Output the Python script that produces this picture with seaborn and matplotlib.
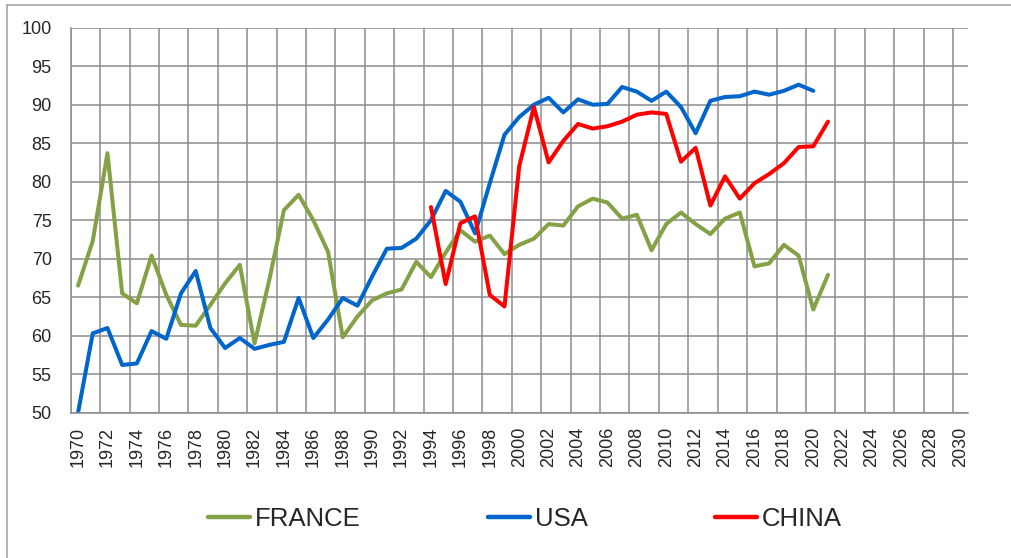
import numpy as np
import pandas as pd
import matplotlib
matplotlib.use("Agg")
import matplotlib.pyplot as plt
from matplotlib.lines import Line2D
import seaborn as sns

# values
france_years = list(range(1970, 2022))
france = [66.5, 72.3, 83.7, 65.5, 64.2, 70.4, 65.3, 61.4, 61.3, 64.0,
          66.8, 69.2, 59.0, 67.2, 76.3, 78.3, 75.0, 70.9, 59.8, 62.5,
          64.6, 65.5, 66.0, 69.6, 67.6, 70.8, 73.7, 72.2, 73.0, 70.6,
          71.8, 72.6, 74.5, 74.3, 76.8, 77.8, 77.3, 75.2, 75.7, 71.1,
          74.5, 76.0, 74.5, 73.2, 75.2, 76.0, 69.0, 69.4, 71.8, 70.4,
          63.4, 67.9]

usa_years = list(range(1970, 2021))
usa = [50.0, 60.3, 61.0, 56.2, 56.4, 60.6, 59.6, 65.5, 68.4, 61.0,
       58.4, 59.7, 58.3, 58.8, 59.2, 64.9, 59.7, 62.1, 64.9, 63.9,
       67.7, 71.3, 71.4, 72.6, 75.0, 78.8, 77.4, 73.3, 79.8, 86.1,
       88.4, 90.0, 90.9, 89.0, 90.7, 90.0, 90.1, 92.3, 91.7, 90.5,
       91.7, 89.7, 86.3, 90.5, 91.0, 91.1, 91.7, 91.3, 91.8, 92.6,
       91.8]

china_years = list(range(1994, 2022))
china = [76.7, 66.7, 74.6, 75.5, 65.3, 63.8, 82.0, 89.7, 82.5, 85.3,
         87.5, 86.9, 87.2, 87.8, 88.7, 89.0, 88.8, 82.6, 84.4, 76.9,
         80.7, 77.8, 79.8, 81.0, 82.4, 84.5, 84.6, 87.8]

series_names = ["FRANCE", "USA", "CHINA"]
colours = ["#84A146", "#0066CC", "#FF0000"]
grid_col = "#8C8C8C"

df = pd.concat([
    pd.DataFrame({"year": france_years, "value": france, "country": "FRANCE"}),
    pd.DataFrame({"year": usa_years, "value": usa, "country": "USA"}),
    pd.DataFrame({"year": china_years, "value": china, "country": "CHINA"}),
])

sns.set_style("white")
plt.rcParams["font.family"] = ["Liberation Sans", "DejaVu Sans"]

fig = plt.figure(figsize=(10.12, 5.58), dpi=100)
ax = fig.add_axes([70.7 / 1012, 1 - 412.7 / 558, 897 / 1012, 385 / 558])

sns.lineplot(data=df, x="year", y="value", hue="country", hue_order=series_names,
             palette=colours, linewidth=2.9, ax=ax, legend=False,
             solid_joinstyle="round", solid_capstyle="round")

ax.set_xlim(1969.5, 2030.5)
ax.set_ylim(50, 100)
ax.set_xlabel("")
ax.set_ylabel("")

# grid lines between categories, labels on the categories
ax.set_xticks(np.arange(1969.5, 2030, 2))
ax.set_xticklabels([])
ax.set_xticks(np.arange(1970, 2031, 2), minor=True)
ax.set_xticklabels([str(y) for y in range(1970, 2031, 2)], minor=True,
                   rotation=90, fontsize=13)
ax.tick_params(axis="x", which="major", length=4.7, width=1.1, color=grid_col,
               direction="out")
ax.tick_params(axis="x", which="minor", length=0, pad=10)
ax.set_yticks(np.arange(50, 101, 5))
ax.tick_params(axis="y", length=4.7, width=1.1, color=grid_col, direction="out",
               pad=9, labelsize=13)

ax.grid(True, which="major", color=grid_col, linewidth=1.1)
ax.set_axisbelow(True)
for side in ["top", "right"]:
    ax.spines[side].set_visible(False)
for side in ["left", "bottom"]:
    ax.spines[side].set_color(grid_col)
    ax.spines[side].set_linewidth(1.1)

handles = [Line2D([0], [0], color=c, linewidth=3.2) for c in colours]
ax.legend(handles, series_names, loc="center", ncol=3, frameon=False,
          bbox_to_anchor=(525 / 1012, 1 - 519 / 558), bbox_transform=fig.transFigure,
          prop={"family": "Liberation Sans", "size": 18.5},
          handlelength=1.63, handletextpad=0.2, columnspacing=4.95)

# outer chart border (top and left visible in the reference)
fig.add_artist(Line2D([7.5 / 1012, 1], [1 - 5 / 558, 1 - 5 / 558],
                      transform=fig.transFigure, color="#A6A6A6", linewidth=1.2))
fig.add_artist(Line2D([7.5 / 1012, 7.5 / 1012], [0, 1 - 5 / 558],
                      transform=fig.transFigure, color="#A6A6A6", linewidth=1.2))

fig.savefig("out.png", dpi=100, facecolor="white")
